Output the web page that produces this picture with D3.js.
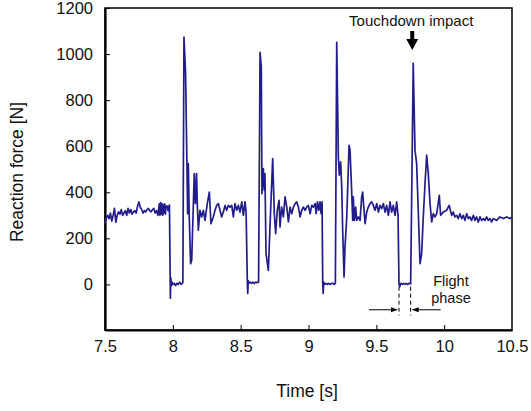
<!DOCTYPE html>
<html>
<head>
<meta charset="utf-8">
<script src="https://cdn.jsdelivr.net/npm/d3@7"></script>
<style>
	body { margin: 0; background: #fff; }
	text { font-family: "Liberation Sans", Arial, Helvetica, sans-serif; fill: #111; }
</style>
</head>
<body>
<div id="chart"></div>
<script>
document.addEventListener("DOMContentLoaded", main);

// reaction force trace
var time = [
	7.50, 7.51, 7.52, 7.53, 7.54, 7.55, 7.56, 7.57, 7.58, 7.59,
	7.60, 7.61, 7.62, 7.63, 7.64, 7.65, 7.66, 7.67, 7.68, 7.69,
	7.70, 7.71, 7.72, 7.73, 7.74, 7.75, 7.76, 7.77, 7.78, 7.79,
	7.80, 7.81, 7.82, 7.83, 7.84, 7.85, 7.86, 7.87, 7.88, 7.89,
	7.90, 7.905, 7.91, 7.915, 7.92, 7.925, 7.93, 7.935, 7.94, 7.945,
	7.95, 7.96, 7.965, 7.975, 7.982, 7.985, 7.99, 7.995, 8.00, 8.01,
	8.02, 8.03, 8.04, 8.05, 8.06, 8.07, 8.074, 8.082, 8.094, 8.104,
	8.109, 8.114, 8.121, 8.131, 8.139, 8.158, 8.166, 8.175, 8.180, 8.188,
	8.200, 8.212, 8.225, 8.237, 8.254, 8.269, 8.281, 8.298, 8.311, 8.323,
	8.335, 8.348, 8.360, 8.372, 8.385, 8.397, 8.409, 8.421, 8.434, 8.446,
	8.458, 8.471, 8.483, 8.495, 8.508, 8.520, 8.532, 8.540, 8.549, 8.552,
	8.556, 8.56, 8.57, 8.58, 8.59, 8.60, 8.61, 8.62, 8.632, 8.643,
	8.652, 8.657, 8.667, 8.674, 8.679, 8.687, 8.704, 8.716, 8.736, 8.748,
	8.758, 8.770, 8.783, 8.790, 8.802, 8.815, 8.827, 8.840, 8.852, 8.864,
	8.876, 8.889, 8.901, 8.913, 8.926, 8.938, 8.950, 8.962, 8.975, 8.987,
	8.999, 9.012, 9.024, 9.036, 9.049, 9.056, 9.066, 9.076, 9.085, 9.093,
	9.100, 9.105, 9.108, 9.112, 9.12, 9.13, 9.14, 9.15, 9.16, 9.17,
	9.18, 9.19, 9.198, 9.208, 9.220, 9.227, 9.237, 9.245, 9.252, 9.262,
	9.269, 9.282, 9.299, 9.306, 9.318, 9.326, 9.330, 9.338, 9.348, 9.355,
	9.367, 9.380, 9.392, 9.399, 9.417, 9.429, 9.441, 9.453, 9.466, 9.478,
	9.490, 9.503, 9.515, 9.527, 9.539, 9.552, 9.564, 9.576, 9.589, 9.601,
	9.613, 9.625, 9.638, 9.650, 9.660, 9.667, 9.672, 9.68, 9.69, 9.70,
	9.71, 9.72, 9.73, 9.74, 9.753, 9.772, 9.785, 9.797, 9.809, 9.822,
	9.834, 9.846, 9.859, 9.871, 9.883, 9.896, 9.908, 9.920, 9.932, 9.945,
	9.964, 9.974, 9.993, 10.018, 10.037, 10.055, 10.067, 10.079, 10.092, 10.104,
	10.116, 10.129, 10.141, 10.153, 10.166, 10.178, 10.190, 10.202, 10.215, 10.227,
	10.239, 10.252, 10.264, 10.276, 10.289, 10.301, 10.313, 10.325, 10.338, 10.350,
	10.362, 10.387, 10.411, 10.436, 10.460, 10.485, 10.50
];

var force = [
	265, 290, 300, 285, 310, 275, 300, 330, 270, 300,
	315, 305, 325, 300, 310, 320, 300, 330, 310, 325,
	305, 315, 320, 310, 340, 358, 335, 325, 310, 320,
	315, 325, 330, 320, 315, 325, 330, 310, 320, 300,
	350, 300, 355, 305, 350, 300, 345, 310, 350, 305,
	340, 340, 320, 345, -60, 30, -5, 10, 0, 5,
	-5, 5, 0, 10, 0, 5, 10, 1074, 916, 525,
	307, 525, 293, 90, 104, 481, 351, 481, 351, 235,
	322, 293, 322, 278, 351, 401, 264, 293, 322, 343,
	351, 322, 293, 314, 343, 322, 343, 336, 343, 293,
	351, 322, 343, 314, 358, 300, 358, 314, 17, -39,
	15, 5, 10, 5, 10, 5, 10, 8, 10, 1007,
	945, 394, 503, 409, 481, 133, 61, 249, 546, 307,
	220, 322, 365, 249, 336, 293, 380, 336, 271, 336,
	307, 336, 351, 358, 336, 293, 322, 336, 322, 336,
	343, 307, 343, 336, 351, 307, 358, 322, 358, 307,
	358, 4, -39, 10, 0, 5, 0, 5, 0, 5,
	5, 0, 5, 1051, 553, 474, 532, 423, 235, 32,
	162, 293, 604, 583, 409, 278, 380, 278, 336, 278,
	293, 278, 380, 401, 264, 314, 336, 351, 358, 343,
	322, 351, 314, 343, 329, 351, 314, 343, 300, 358,
	314, 343, 300, 358, 300, 4, -10, 5, 0, 5,
	0, 5, 0, 5, 2, 960, 583, 525, 322, 90,
	133, 293, 438, 561, 481, 351, 271, 307, 293, 307,
	387, 300, 314, 322, 343, 300, 314, 293, 300, 286,
	307, 286, 300, 278, 307, 286, 293, 278, 300, 278,
	293, 271, 293, 278, 286, 278, 293, 278, 286, 271,
	286, 278, 293, 286, 293, 286, 293
];

var xTicks = [7.5, 8, 8.5, 9, 9.5, 10, 10.5];
var yTicks = [0, 200, 400, 600, 800, 1000, 1200];

var canvas = {};


function addCanvas(cont) {
	canvas.cont = d3.select(cont);
	canvas.bounds = { width: 531, height: 411 };
	canvas.margin = { left: 105, right: 19, top: 8, bottom: 81 };

	canvas.svg = canvas.cont.append("svg")
		.attr("width", canvas.bounds.width)
		.attr("height", canvas.bounds.height);

	canvas.g = canvas.svg.append("g");
}


function drawChart() {
	var m = canvas.margin;
	var x0 = m.left, x1 = canvas.bounds.width - m.right;
	var y0 = canvas.bounds.height - m.bottom, y1 = m.top;

	var x = d3.scaleLinear().domain([7.5, 10.5]).range([x0, x1]);
	var y = d3.scaleLinear().domain([-200, 1200]).range([y0 + 0.5, y1]);

	var g = canvas.g;

	// frame
	g.append("rect")
		.attr("x", x0).attr("y", y1)
		.attr("width", x1 - x0).attr("height", y0 - y1)
		.attr("fill", "none")
		.attr("stroke", "#000")
		.attr("stroke-width", 1.5);

	var yAxis = g.append("g")
		.attr("transform", "translate(" + x0 + ",0)")
		.call(d3.axisLeft(y).tickValues(yTicks).tickSizeInner(-5).tickSizeOuter(0).tickPadding(12)
			.tickFormat(d3.format("d")));

	var xAxis = g.append("g")
		.attr("transform", "translate(0," + y0 + ")")
		.call(d3.axisBottom(x).tickValues(xTicks).tickSizeInner(-5).tickSizeOuter(0).tickPadding(10)
			.tickFormat(d3.format("")));

	[xAxis, yAxis].forEach( (a) => {
		a.select(".domain").attr("stroke", "#000").attr("stroke-width", 2.2);
		a.selectAll(".tick line").attr("stroke", "#000").attr("stroke-width", 1);
		a.selectAll(".tick text")
			.attr("font-size", 16.5)
			.attr("font-family", "Liberation Sans, Arial, sans-serif")
			.attr("fill", "#111");
	});
	// the end x ticks sit on the frame
	xAxis.selectAll(".tick line").filter( (d) => d == 7.5 || d == 10.5 ).remove();

	// trace
	var pts = time.map( (t, i) => [t, force[i]] );
	g.append("path")
		.datum(pts)
		.attr("fill", "none")
		.attr("stroke", "#221c8c")
		.attr("stroke-width", 1.7)
		.attr("stroke-linejoin", "round")
		.attr("d", d3.line().x( (d) => x(d[0]) ).y( (d) => y(d[1]) ));

	// touchdown annotation
	var tdT = 9.772;
	g.append("text")
		.attr("x", x(tdT) - 2)
		.attr("y", 26)
		.attr("text-anchor", "middle")
		.attr("font-size", 15)
		.text("Touchdown impact");

	var ax = x(tdT) - 1;
	g.append("path")
		.attr("d", "M" + (ax - 2) + ",31 L" + (ax + 2) + ",31 L" + (ax + 2) + ",39 L" + (ax + 6) + ",39 L" + ax + ",50 L" + (ax - 6) + ",39 L" + (ax - 2) + ",39 Z")
		.attr("fill", "#000");

	// flight phase markers
	var fStart = 9.667, fEnd = 9.753;
	[fStart, fEnd].forEach( (t) => {
		g.append("line")
			.attr("x1", x(t)).attr("x2", x(t))
			.attr("y1", y(-10)).attr("y2", y(-135))
			.attr("stroke", "#000")
			.attr("stroke-width", 1)
			.attr("stroke-dasharray", "4,3");
	});

	var ay = y(-110);
	drawArrow(g, x(fStart) - 30, ay, x(fStart) - 1, ay);
	drawArrow(g, x(fEnd) + 30, ay, x(fEnd) + 1, ay);

	g.append("text")
		.attr("x", x(10.05))
		.attr("y", 285.5)
		.attr("text-anchor", "middle")
		.attr("font-size", 14.5)
		.text("Flight");
	g.append("text")
		.attr("x", x(10.05))
		.attr("y", 302.5)
		.attr("text-anchor", "middle")
		.attr("font-size", 14.5)
		.text("phase");

	// axis titles
	g.append("text")
		.attr("x", 307)
		.attr("y", 397)
		.attr("text-anchor", "middle")
		.attr("font-size", 17.5)
		.text("Time [s]");

	g.append("text")
		.attr("transform", "translate(23,172) rotate(-90)")
		.attr("text-anchor", "middle")
		.attr("font-size", 17.5)
		.text("Reaction force [N]");
}


function drawArrow(g, xa, ya, xb, yb) {
	var dir = xb > xa ? 1 : -1;
	g.append("line")
		.attr("x1", xa).attr("y1", ya)
		.attr("x2", xb - dir * 6).attr("y2", yb)
		.attr("stroke", "#000")
		.attr("stroke-width", 1);
	g.append("path")
		.attr("d", "M" + xb + "," + yb + " L" + (xb - dir * 7) + "," + (yb - 2.5) + " L" + (xb - dir * 7) + "," + (yb + 2.5) + " Z")
		.attr("fill", "#000");
}


function main() {
	addCanvas("#chart");
	drawChart();
}
</script>
</body>
</html>
